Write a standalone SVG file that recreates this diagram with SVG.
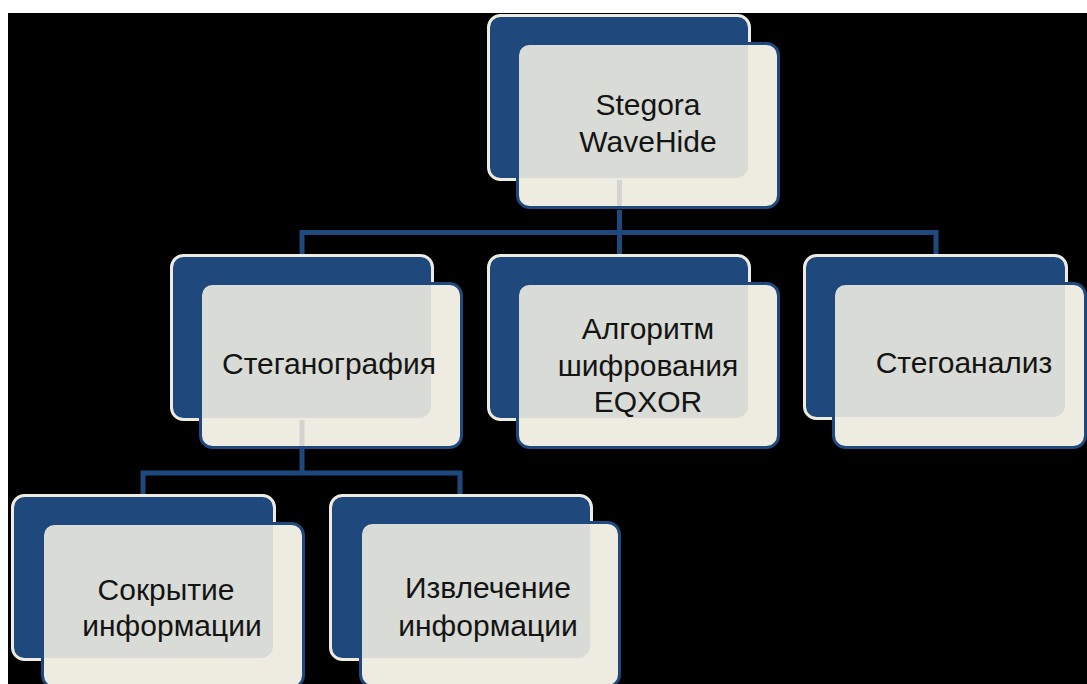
<svg xmlns="http://www.w3.org/2000/svg" width="1087" height="684" viewBox="0 0 1087 684">
<style>
.back{fill:#1F497D;stroke:#EEECE1;stroke-width:3}
.front{fill:#EEECE1}
.ov{fill:#D9DBD6}
.fs{fill:none;stroke:#1F497D;stroke-width:3}
.ghost{stroke:#D3D4CF;stroke-width:5}
.conn{stroke:#1F497D;stroke-width:5;fill:none}
text{font-family:"Liberation Sans","DejaVu Sans",sans-serif;font-size:30px;fill:#141414;text-anchor:middle}
</style>
<rect x="0" y="0" width="1087" height="684" fill="#FFFFFF"/>
<rect x="8" y="13" width="1079" height="671" fill="#000000"/>
<g id="connectors">
<path class="conn" d="M619.5 210 V254 M302 232.5 H936 M302 230 V254 M936 230 V255"/>
<path class="conn" d="M302 448 V473 M143 473 H460 M143 470.5 V494 M460 470.5 V494"/>
</g>
<g id="node-root">
<rect class="back" x="488.5" y="15.5" width="261" height="164" rx="12"/>
<rect class="front" x="517.5" y="43.5" width="261" height="164" rx="12"/>
<path class="ov" d="M519 56 A12 12 0 0 1 531 45 H748 V166 A12 12 0 0 1 736 178 H519 Z"/>
<line class="ghost" x1="619.5" y1="180" x2="619.5" y2="206"/>
<rect class="fs" x="517.5" y="43.5" width="261" height="164" rx="12"/>
<text x="648" y="115">Stegora</text>
<text x="648" y="152">WaveHide</text>
</g>
<g id="node-steg">
<rect class="back" x="171.5" y="255.5" width="261" height="164" rx="12"/>
<rect class="front" x="200.5" y="283.5" width="261" height="164" rx="12"/>
<path class="ov" d="M202 296 A12 12 0 0 1 214 285 H431 V406 A12 12 0 0 1 419 418 H202 Z"/>
<line class="ghost" x1="302" y1="420" x2="302" y2="446"/>
<rect class="fs" x="200.5" y="283.5" width="261" height="164" rx="12"/>
<text x="329" y="374">Стеганография</text>
</g>
<g id="node-algo">
<rect class="back" x="488.5" y="255.5" width="261" height="164" rx="12"/>
<rect class="front" x="517.5" y="283.5" width="261" height="164" rx="12"/>
<path class="ov" d="M519 296 A12 12 0 0 1 531 285 H748 V406 A12 12 0 0 1 736 418 H519 Z"/>
<rect class="fs" x="517.5" y="283.5" width="261" height="164" rx="12"/>
<text x="648" y="339">Алгоритм</text>
<text x="648" y="376">шифрования</text>
<text x="648" y="412">EQXOR</text>
</g>
<g id="node-stegoanaliz">
<rect class="back" x="804.5" y="255.5" width="262" height="163" rx="12"/>
<rect class="front" x="833.5" y="283.5" width="252" height="164" rx="12"/>
<path class="ov" d="M835 296 A12 12 0 0 1 847 285 H1065 V405 A12 12 0 0 1 1053 417 H835 Z"/>
<rect class="fs" x="833.5" y="283.5" width="252" height="164" rx="12"/>
<text x="964" y="373">Стегоанализ</text>
</g>
<g id="node-sokrytie">
<rect class="back" x="12.5" y="495.5" width="262" height="164" rx="12"/>
<rect class="front" x="42.5" y="523.5" width="261" height="164" rx="12"/>
<path class="ov" d="M44 536 A12 12 0 0 1 56 525 H273 V646 A12 12 0 0 1 261 658 H44 Z"/>
<rect class="fs" x="42.5" y="523.5" width="261" height="164" rx="12"/>
<text x="166" y="600">Сокрытие</text>
<text x="172" y="636">информации</text>
</g>
<g id="node-izvlechenie">
<rect class="back" x="330.5" y="495.5" width="261" height="164" rx="12"/>
<rect class="front" x="360.5" y="522.5" width="259" height="164" rx="12"/>
<path class="ov" d="M362 535 A12 12 0 0 1 374 524 H590 V646 A12 12 0 0 1 578 658 H362 Z"/>
<rect class="fs" x="360.5" y="522.5" width="259" height="164" rx="12"/>
<text x="488" y="598">Извлечение</text>
<text x="488" y="636">информации</text>
</g>
</svg>
